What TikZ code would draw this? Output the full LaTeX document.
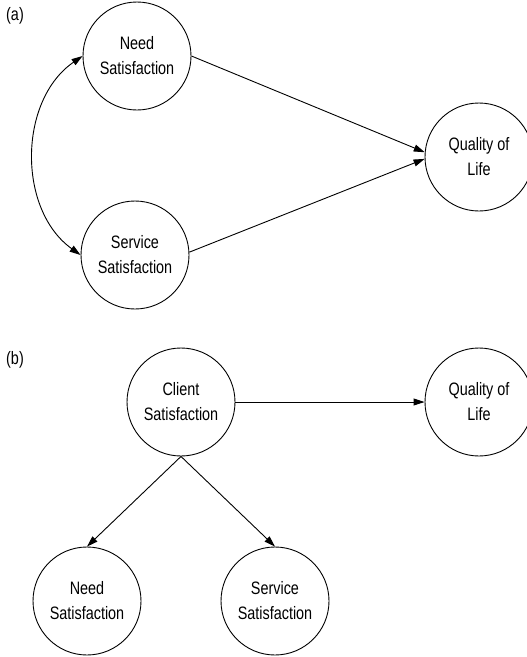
\documentclass[tikz,border=0pt]{standalone}
\usepackage{fontspec}
\setmainfont{Liberation Sans}[FakeStretch=0.8]
\usetikzlibrary{arrows.meta}
\tikzset{
  var/.style={draw, circle, line width=0.9pt, minimum size=108pt, inner sep=0pt,
    align=center, font=\fontsize{18}{25}\selectfont},
  tag/.style={font=\fontsize{18}{25}\selectfont},
  link/.style={->, line width=0.9pt},
  >={Triangle[length=11pt,width=7pt]}
}

\begin{document}
\begin{tikzpicture}[x=1pt, y=1pt]
\useasboundingbox (0,0) rectangle (527,-657);

% Part (a)
\node[tag] (tagA) at (15,-16) {(a)};
\node[var] (needA) at (137,-56) {Need\\Satisfaction};
\node[var] (servA) at (135,-255) {Service\\Satisfaction};
\node[var] (qolA) at (479,-157) {Quality of\\Life};

\draw[link] (needA.east) -- (qolA.175);
\draw[link] (servA.3) -- (qolA.182);
\draw[link, <->] (needA.west) to[bend right=55] (servA.west);

% Part (b)
\node[tag] (tagB) at (15,-360) {(b)};
\node[var] (client) at (181,-402) {Client\\Satisfaction};
\node[var] (qolB) at (479,-402) {Quality of\\Life};
\node[var] (needB) at (87,-601) {Need\\Satisfaction};
\node[var] (servB) at (275,-601) {Service\\Satisfaction};

\draw[link] (client.east) -- (qolB.west);
\draw[link] (client.south) -- (needB.north);
\draw[link] (client.south) -- (servB.north);
\end{tikzpicture}
\end{document}
